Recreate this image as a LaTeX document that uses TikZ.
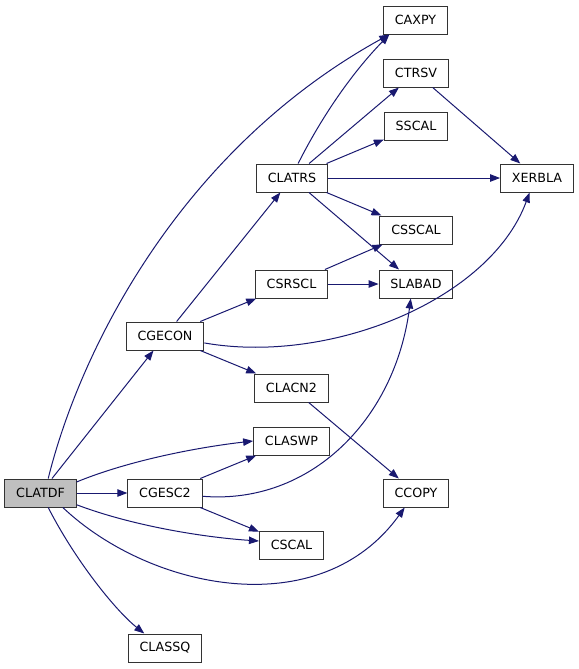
\documentclass[tikz,border=0pt]{standalone}
\usepackage{fontspec}
\setmainfont{DejaVu Sans}
\usetikzlibrary{arrows.meta}
\definecolor{edgeblue}{RGB}{25,25,112}

\begin{document}
\begin{tikzpicture}[x=0.75pt,y=-0.75pt,
  fn/.style={draw=black!80, line width=0.75pt, fill=white, minimum height=21pt, inner xsep=8.5pt,
    font=\fontsize{9.5}{11}\selectfont},
  call/.style={draw=edgeblue, line width=0.75pt, -{Triangle[length=7.5pt,width=5.6pt]}}]
\useasboundingbox (0,0) rectangle (579,669);
% functions
\node[fn, fill=black!25] (clatdf) at (40.5,493) {CLATDF};
\node[fn] (cgesc2) at (165,493) {CGESC2};
\node[fn] (classq) at (165,648) {CLASSQ};
\node[fn] (cgecon) at (165,336) {CGECON};
\node[fn] (clacn2) at (291.5,388) {CLACN2};
\node[fn] (claswp) at (291.5,441) {CLASWP};
\node[fn] (cscal) at (291.5,545) {CSCAL};
\node[fn] (clatrs) at (292,178) {CLATRS};
\node[fn] (csrscl) at (291.5,284) {CSRSCL};
\node[fn] (caxpy) at (415.5,20) {CAXPY};
\node[fn] (ctrsv) at (416,73) {CTRSV};
\node[fn] (sscal) at (416,126) {SSCAL};
\node[fn] (csscal) at (416,230) {CSSCAL};
\node[fn] (slabad) at (416,284) {SLABAD};
\node[fn] (ccopy) at (416,493) {CCOPY};
\node[fn] (xerbla) at (537,178) {XERBLA};
% calls from CLATDF
\draw[call] (clatdf.62) .. controls (80,350) and (180,150) .. (caxpy.209);
\draw[call] (clatdf) -- (cgecon);
\draw[call] (clatdf.17) .. controls (130,460) and (200,447) .. (claswp.west);
\draw[call] (clatdf) -- (cgesc2);
\draw[call] (clatdf.-18) .. controls (130,525) and (200,537) .. (cscal.173);
\draw[call] (clatdf.-33) .. controls (150,590) and (320,625) .. (ccopy.232);
\draw[call] (clatdf.-62) .. controls (75,560) and (115,610) .. (classq.145);
% CGECON
\draw[call] (cgecon) -- (clatrs);
\draw[call] (cgecon) -- (csrscl);
\draw[call] (cgecon.-10) .. controls (330,365) and (490,300) .. (xerbla.243);
\draw[call] (cgecon) -- (clacn2);
% CGESC2
\draw[call] (cgesc2) -- (claswp);
\draw[call] (cgesc2.-5) .. controls (310,505) and (395,420) .. (slabad.250);
\draw[call] (cgesc2) -- (cscal);
% CLATRS
\draw[call] (clatrs.67) .. controls (320,120) and (350,75) .. (caxpy.209);
\draw[call] (clatrs) -- (ctrsv);
\draw[call] (clatrs) -- (sscal);
\draw[call] (clatrs) -- (xerbla);
\draw[call] (clatrs) -- (csscal);
\draw[call] (clatrs) -- (slabad);
% the rest
\draw[call] (ctrsv) -- (xerbla);
\draw[call] (csrscl) -- (csscal);
\draw[call] (csrscl) -- (slabad);
\draw[call] (clacn2) -- (ccopy);
\end{tikzpicture}
\end{document}
